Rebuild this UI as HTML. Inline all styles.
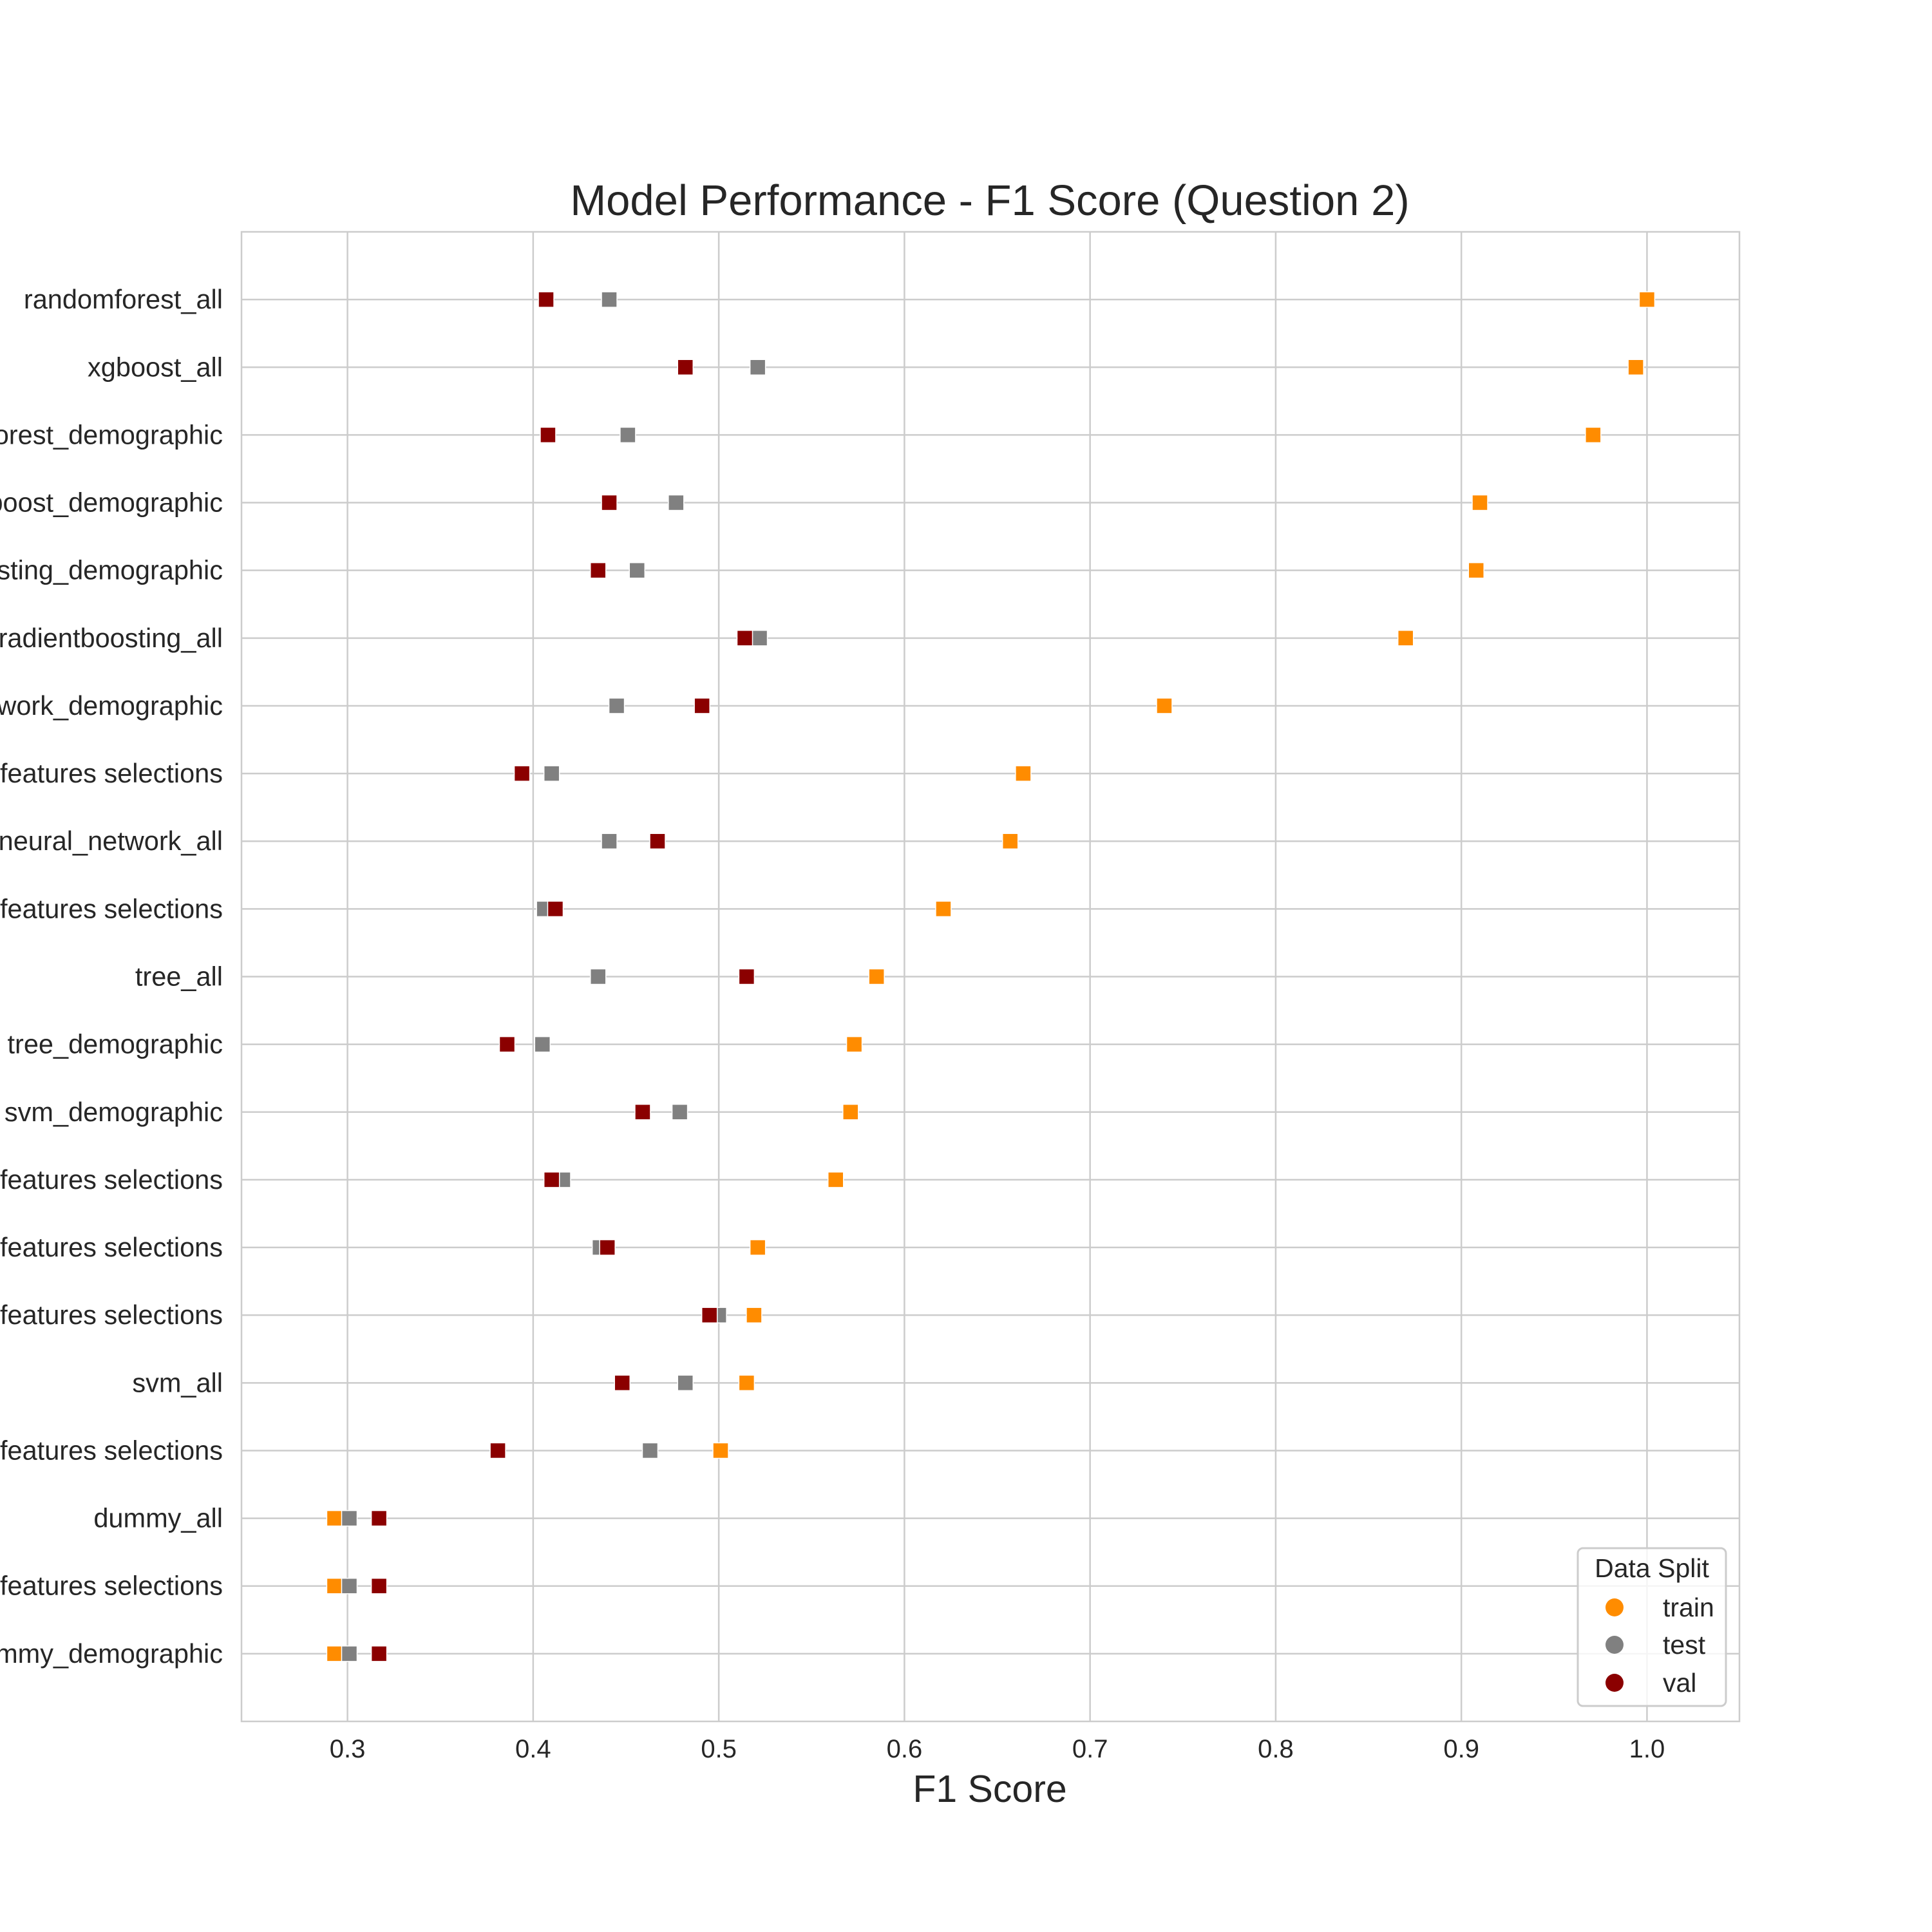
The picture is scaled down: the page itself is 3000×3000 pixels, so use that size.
<!DOCTYPE html>
<html><head><meta charset="utf-8"><style>
html,body{margin:0;padding:0;background:#fff;}
svg{display:block;font-family:"Liberation Sans",Arial,sans-serif;}
</style></head><body>
<svg id="chart" width="3000" height="3000" viewBox="0 0 3000 3000" xmlns="http://www.w3.org/2000/svg">
<rect width="3000" height="3000" fill="#fff"/>
<text x="1537" y="334" font-size="67" text-anchor="middle" fill="#262626">Model Performance - F1 Score (Question 2)</text>
<g id="grid"></g>
<g id="marks"></g>
<rect x="375" y="360" width="2326" height="2313" fill="none" stroke="#cccccc" stroke-width="2.5"/>
<text x="1537" y="2798" font-size="59" text-anchor="middle" fill="#262626">F1 Score</text>
<g>
<rect x="2450" y="2404" width="230" height="245" rx="8" fill="#fff" fill-opacity="0.8" stroke="#cccccc" stroke-width="3"/>
<text x="2565" y="2449" font-size="41" text-anchor="middle" fill="#262626">Data Split</text>
<circle cx="2507" cy="2496" r="14" fill="#ff8c00"/>
<text x="2582" y="2510" font-size="41" fill="#262626">train</text>
<circle cx="2507" cy="2554" r="14" fill="#808080"/>
<text x="2582" y="2568" font-size="41" fill="#262626">test</text>
<circle cx="2507" cy="2613" r="14" fill="#8b0000"/>
<text x="2582" y="2627" font-size="41" fill="#262626">val</text>
</g>
</svg>
<script>
const models = ["randomforest_all","xgboost_all","randomforest_demographic","xgboost_demographic","gradientboosting_demographic","gradientboosting_all","neural_network_demographic","randomforest features selections","neural_network_all","xgboost features selections","tree_all","tree_demographic","svm_demographic","gradientboosting features selections","tree features selections","neural_network features selections","svm_all","svm features selections","dummy_all","dummy features selections","dummy_demographic"];
const trainVals = [1.0,0.994,0.971,0.910,0.908,0.870,0.740,0.664,0.657,0.621,0.585,0.573,0.571,0.563,0.521,0.519,0.515,0.501,0.293,0.293,0.293];
const testVals = [0.441,0.521,0.451,0.477,0.456,0.522,0.445,0.410,0.441,0.406,0.435,0.405,0.479,0.416,0.436,0.500,0.482,0.463,0.301,0.301,0.301];
const valVals = [0.407,0.482,0.408,0.441,0.435,0.514,0.491,0.394,0.467,0.412,0.515,0.386,0.459,0.410,0.440,0.495,0.448,0.381,0.317,0.317,0.317];
const xTicks = [0.3,0.4,0.5,0.6,0.7,0.8,0.9,1.0];
const xTickLabels = ["0.3","0.4","0.5","0.6","0.7","0.8","0.9","1.0"];

const NS="http://www.w3.org/2000/svg";
const L=375,R=2701,T=360,B=2673,XMIN=0.2429,XMAX=1.0498;
function xs(v){return L+(v-XMIN)/(XMAX-XMIN)*(R-L);}
function ys(i){return T+(i+1)/(models.length+1)*(B-T);}
function mk(tag,attrs,parent){const e=document.createElementNS(NS,tag);for(const k in attrs)e.setAttribute(k,attrs[k]);parent.appendChild(e);return e;}
const grid=document.getElementById('grid'), marks=document.getElementById('marks'), svg=document.getElementById('chart');
xTicks.forEach((t,i)=>{
  const ln=mk('line',{x1:xs(t),x2:xs(t),y1:T,y2:B,stroke:'#cccccc','stroke-width':2.5},grid);
  
  
  const tx=mk('text',{x:xs(t),y:2729,'font-size':40,'text-anchor':'middle',fill:'#262626'},svg);
  tx.textContent=xTickLabels[i];
  
  
});
models.forEach((m,i)=>{
  const ln=mk('line',{x1:L,x2:R,y1:ys(i),y2:ys(i),stroke:'#cccccc','stroke-width':2.5},grid);
  
  
  const tx=mk('text',{x:346,y:ys(i)+14,'font-size':41.5,'text-anchor':'end',fill:'#262626'},svg);
  tx.textContent=m;
  
  
});
const S=24;
function drawSeries(vals,color,name){
  vals.forEach((v,i)=>{
    const r=mk('rect',{x:xs(v)-S/2,y:ys(i)-S/2,width:S,height:S,fill:color,stroke:'#fff','stroke-width':1.5},marks);
    
    
  });
}
drawSeries(trainVals,'#ff8c00','train');
drawSeries(testVals,'#808080','test');
drawSeries(valVals,'#8b0000','val');
</script>
</body></html>
